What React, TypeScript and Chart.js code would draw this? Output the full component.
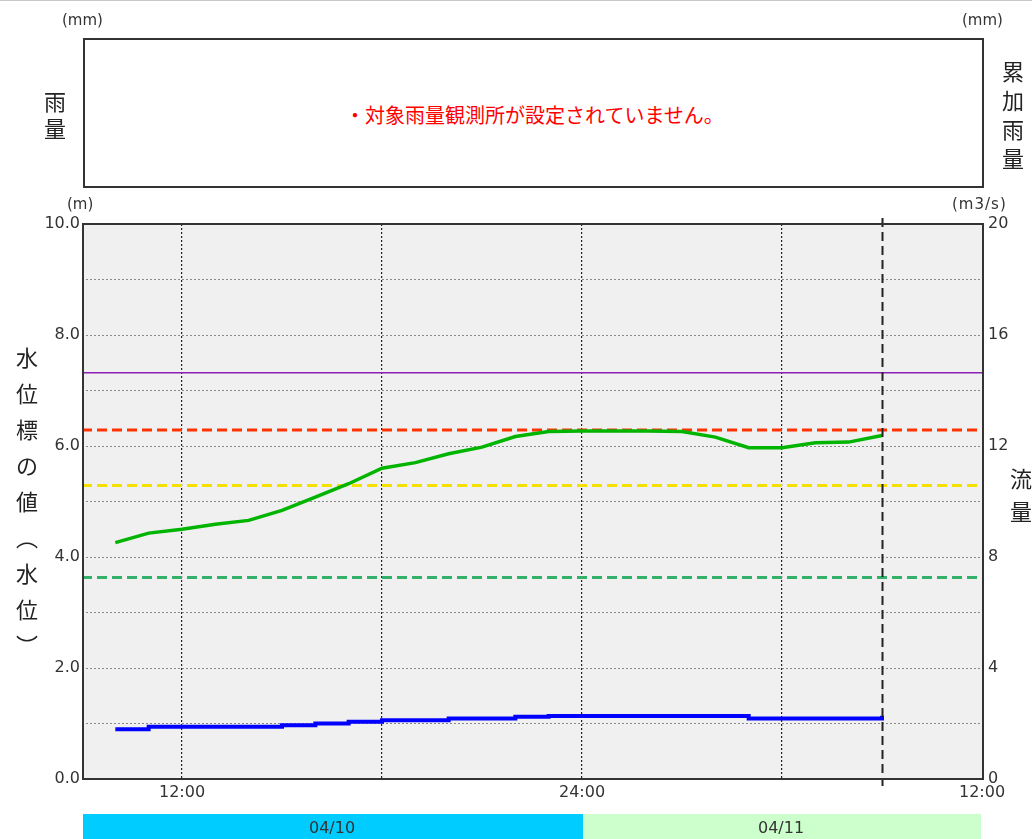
import { useEffect, useRef } from 'react';
import { Chart, registerables } from 'chart.js';

Chart.register(...registerables);

// ---- data ----
const hours = [10, 11, 12, 13, 14, 15, 16, 17, 18, 19, 20, 21, 22, 23, 24, 25, 26, 27, 28, 29, 30, 31, 32, 33];
const waterLevel = [4.26, 4.43, 4.5, 4.59, 4.66, 4.84, 5.08, 5.32, 5.6, 5.7, 5.86, 5.98, 6.17, 6.26, 6.27, 6.27, 6.27, 6.26, 6.16, 5.97, 5.97, 6.06, 6.07, 6.19];
const flow = [1.79, 1.88, 1.88, 1.88, 1.88, 1.94, 2.0, 2.06, 2.12, 2.12, 2.18, 2.18, 2.24, 2.27, 2.27, 2.27, 2.27, 2.27, 2.27, 2.18, 2.18, 2.18, 2.18, 2.28];
const thresholdLevels = [7.32, 6.29, 5.29, 3.63];
const xMin = 9;
const xMax = 36;
const xTicks = [12, 18, 24, 30, 36];
const xTickLabels = ['12:00', '', '24:00', '', '12:00'];
const currentHour = 33;
const dateLabels = ['04/10', '04/11'];
const dateStarts = [9, 24];
const dateEnds = [24, 36];
const rainMessage = '・対象雨量観測所が設定されていません。';

const thresholdColors = ['#8c1fb4', '#ff3300', '#f5e100', '#33b06a'];
const thresholdDash = [[], [10, 5], [10, 5], [10, 5]];
const thresholdWidth = [1.5, 3, 3, 3];
const dateColors = ['#00ccff', '#ccffcc'];

const TICK_FONT = { family: '"DejaVu Sans", sans-serif', size: 16 };

const framePlugin = {
  id: 'frame',
  beforeDraw(chart: any) {
    const { ctx, chartArea: a } = chart;
    ctx.save();
    ctx.fillStyle = '#f0f0f0';
    ctx.fillRect(a.left, a.top, a.right - a.left, a.bottom - a.top);
    ctx.restore();
  },
  afterDatasetsDraw(chart: any) {
    const { ctx, chartArea: a, scales } = chart;
    ctx.save();
    // current time marker
    const cx = Math.round(scales.x.getPixelForValue(currentHour)) + 0.5;
    ctx.strokeStyle = '#222';
    ctx.lineWidth = 2;
    ctx.setLineDash([9, 5]);
    ctx.beginPath();
    ctx.moveTo(cx, a.top - 6);
    ctx.lineTo(cx, a.bottom + 7);
    ctx.stroke();
    ctx.setLineDash([]);
    // frame
    ctx.strokeStyle = '#333';
    ctx.lineWidth = 2;
    ctx.strokeRect(a.left + 1, a.top, a.right - a.left, a.bottom - a.top);
    // date bands
    const top = 814;
    ctx.font = '16px "DejaVu Sans", sans-serif';
    ctx.textAlign = 'center';
    ctx.textBaseline = 'middle';
    dateLabels.forEach((lab, i) => {
      const x0 = scales.x.getPixelForValue(dateStarts[i]);
      const x1 = scales.x.getPixelForValue(dateEnds[i]) - (i === dateLabels.length - 1 ? 2 : 0);
      ctx.fillStyle = dateColors[i];
      ctx.fillRect(x0 + 1, top, x1 - x0, 839 - top);
      ctx.fillStyle = '#333';
      ctx.fillText(lab, (x0 + x1) / 2, top + 15);
    });
    ctx.restore();
  },
};

function VText({ chars, x, firstCenter, spacing, size = 22 }: { chars: string; x: number; firstCenter: number; spacing: number; size?: number }) {
  return (
    <div style={{ position: 'absolute', left: x - 20, top: firstCenter - spacing / 2, width: 40 }}>
      {Array.from(chars).map((c, i) => (
        <div key={i} style={{ height: spacing, lineHeight: spacing + 'px', textAlign: 'center', fontSize: size, fontFamily: '"Noto Sans CJK JP", sans-serif', color: '#222' }}>{c}</div>
      ))}
    </div>
  );
}

const unitStyle: any = { position: 'absolute', fontFamily: '"DejaVu Sans", sans-serif', fontSize: 15, lineHeight: '18px', color: '#333', whiteSpace: 'nowrap' };

export default function App() {
  const ref = useRef<HTMLCanvasElement | null>(null);

  useEffect(() => {
    if (!ref.current) return;
    const thresholdSets = thresholdLevels.map((v, i) => ({
      type: 'line' as const,
      data: [{ x: xMin, y: v }, { x: xMax, y: v }],
      borderColor: thresholdColors[i],
      borderWidth: thresholdWidth[i],
      borderDash: thresholdDash[i],
      pointRadius: 0,
      yAxisID: 'y',
      order: 2,
    }));
    const chart = new Chart(ref.current, {
      type: 'line',
      data: {
        datasets: [
          {
            data: hours.map((h, i) => ({ x: h, y: waterLevel[i] })),
            borderColor: '#00b400',
            borderWidth: 3.5,
            pointRadius: 0,
            yAxisID: 'y',
            order: 0,
          },
          {
            data: hours.map((h, i) => ({ x: h, y: flow[i] })),
            borderColor: '#0000ff',
            borderWidth: 4,
            pointRadius: 0,
            stepped: 'before',
            yAxisID: 'y1',
            order: 0,
          },
          ...thresholdSets,
        ],
      },
      options: {
        animation: false,
        responsive: true,
        maintainAspectRatio: false,
        layout: { padding: { top: 224, left: 0, right: 0, bottom: 0 } },
        plugins: { legend: { display: false }, tooltip: { enabled: false } },
        scales: {
          x: {
            type: 'linear',
            min: xMin,
            max: xMax,
            afterBuildTicks: (s: any) => { s.ticks = xTicks.map((v) => ({ value: v })); },
            afterFit: (s: any) => { s.height = 60; },
            ticks: {
              autoSkip: false,
              maxRotation: 0,
              padding: 4,
              color: '#333',
              font: TICK_FONT,
              callback: (v: any) => xTickLabels[xTicks.indexOf(Number(v))] ?? '',
            },
            grid: {
              color: (c: any) => (c.tick && (c.tick.value === xMin || c.tick.value === xMax) ? 'rgba(0,0,0,0)' : '#222'),
              lineWidth: 1.2,
              drawTicks: false,
            },
            border: { display: false, dash: [2, 2] },
          },
          y: {
            position: 'left',
            min: 0,
            max: 10,
            afterFit: (s: any) => { s.width = 82; },
            ticks: {
              stepSize: 1,
              padding: 2,
              color: '#333',
              font: TICK_FONT,
              callback: (v: any) => (Number(v) % 2 === 0 ? Number(v).toFixed(1) : ''),
            },
            grid: {
              color: (c: any) => (c.tick && (c.tick.value === 0 || c.tick.value === 10) ? 'rgba(0,0,0,0)' : '#8a8a8a'),
              lineWidth: 1,
              drawTicks: false,
            },
            border: { display: false, dash: [2, 2] },
          },
          y1: {
            position: 'right',
            min: 0,
            max: 20,
            afterFit: (s: any) => { s.width = 50; },
            ticks: { stepSize: 4, padding: 6, color: '#333', font: TICK_FONT },
            grid: { display: false, drawTicks: false },
            border: { display: false },
          },
        },
      },
      plugins: [framePlugin],
    });
    return () => chart.destroy();
  }, []);

  return (
    <div style={{ position: 'fixed', left: 0, top: 0, width: 1032, height: 839, background: '#fff', overflow: 'hidden', borderTop: '1px solid #c8c8c8', boxSizing: 'border-box' }}>
      <div style={{ position: 'absolute', left: 0, top: -1, width: 1032, height: 839 }}>
        <canvas ref={ref} />
      </div>
      <div style={{ position: 'absolute', left: 83, top: 37, width: 901, height: 150, border: '2px solid #333', boxSizing: 'border-box', background: '#fff' }} />
      <div style={{ position: 'absolute', left: 345, top: 102, fontSize: 20, lineHeight: '24px', color: '#ff0000', fontFamily: '"Noto Sans CJK JP", sans-serif', whiteSpace: 'nowrap' }}>{rainMessage}</div>
      <div style={{ ...unitStyle, left: 62, top: 10 }}>(mm)</div>
      <div style={{ ...unitStyle, left: 962, top: 10 }}>(mm)</div>
      <div style={{ ...unitStyle, left: 67, top: 194 }}>(m)</div>
      <div style={{ ...unitStyle, left: 952, top: 194, letterSpacing: 1 }}>(m3/s)</div>
      <VText chars="雨量" x={55} firstCenter={99} spacing={27} />
      <VText chars="累加雨量" x={1013} firstCenter={69} spacing={29} />
      <VText chars="水位標の値︵水位︶" x={27} firstCenter={355} spacing={36} />
      <VText chars="流量" x={1021} firstCenter={476} spacing={33} />
    </div>
  );
}
